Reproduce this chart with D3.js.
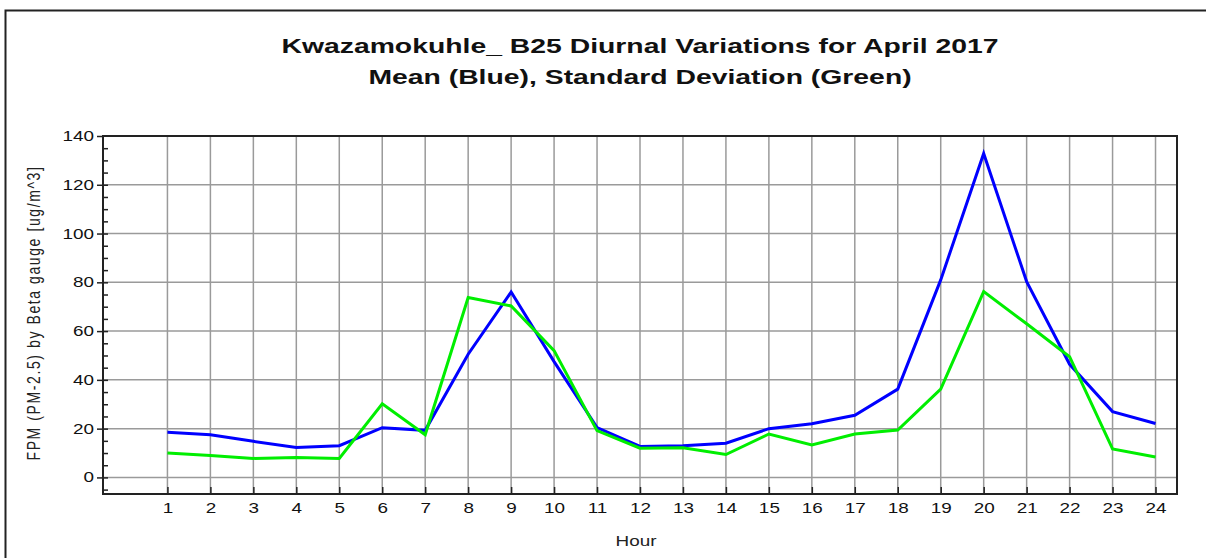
<!DOCTYPE html>
<html>
  <head>
    <title>Kwazamokuhle diurnal variations</title>
    <script src="https://d3js.org/d3.v7.min.js"></script>
    <style>
      body { margin: 0; background: #fff; }
      text { font-family: "Liberation Sans", Arial, sans-serif; }
    </style>
  </head>
  <body>
    <div id="main"></div>
    <script>
      var WIDTH = 1206, HEIGHT = 558;
      var STRETCH = 1.35; // the source image text is drawn wide

      // data
      var hours = d3.range(1, 25);
      var meanValues = [18.5, 17.5, 14.8, 12.3, 13, 20.4, 19.3, 50.5, 76, 47.5, 20.4, 12.7,
                        13, 14, 20, 22, 25.5, 36.2, 81, 132.8, 80.3, 46.4, 27, 22.1];
      var sdValues   = [10, 9, 7.8, 8.2, 7.8, 30.2, 17.5, 73.8, 70.3, 52, 19.2, 12,
                        12.2, 9.4, 17.8, 13.3, 17.8, 19.4, 36.2, 76.2, 63, 49.5, 11.7, 8.4];
      var yTicks = [0, 20, 40, 60, 80, 100, 120, 140];
      var titleLines = ["Kwazamokuhle_  B25 Diurnal Variations for April 2017",
                        "Mean (Blue), Standard Deviation (Green)"];

      var margin = {left: 103, top: 136, right: 1177, bottom: 494};

      var svg = d3.select('#main').append('svg')
                  .attr('width', WIDTH).attr('height', HEIGHT);

      // outer frame (runs off the bottom/right of the picture)
      svg.append('rect')
        .attr('x', 5.5).attr('y', 10.5)
        .attr('width', WIDTH + 10).attr('height', HEIGHT + 10)
        .attr('fill', 'none').attr('stroke', '#222').attr('stroke-width', 2);

      var x = d3.scaleLinear().domain([-0.5, 24.5]).range([margin.left, margin.right]);
      var y = d3.scaleLinear().domain([-6.8, 140]).range([margin.bottom, margin.top]);

      // grid
      svg.append('g').selectAll('line.v').data(hours).enter()
        .append('line')
          .attr('x1', function(d) { return x(d); }).attr('x2', function(d) { return x(d); })
          .attr('y1', margin.top).attr('y2', margin.bottom)
          .attr('stroke', '#9a9a9a').attr('stroke-width', 1.5);
      svg.append('g').selectAll('line.h').data(yTicks).enter()
        .append('line')
          .attr('x1', margin.left).attr('x2', margin.right)
          .attr('y1', function(d) { return y(d); }).attr('y2', function(d) { return y(d); })
          .attr('stroke', '#9a9a9a').attr('stroke-width', 1.5);

      // y axis: major ticks outside, minor ticks inside
      var yAxis = svg.append('g').attr('transform', 'translate(' + margin.left + ',0)')
        .call(d3.axisLeft(y).tickValues(yTicks).tickSize(6).tickPadding(3));
      var yMinor = svg.append('g').attr('transform', 'translate(' + margin.left + ',0)')
        .call(d3.axisRight(y).tickValues(d3.range(-5, 140, 5)).tickSize(5).tickFormat(''));
      yMinor.select('.domain').remove();

      // x axis: ticks pointing up inside the plot
      var xAxis = svg.append('g').attr('transform', 'translate(0,' + margin.bottom + ')')
        .call(d3.axisTop(x).tickValues(hours).tickSize(7).tickFormat(''));
      xAxis.select('.domain').remove();
      var xLabels = svg.append('g').attr('transform', 'translate(0,' + margin.bottom + ')')
        .call(d3.axisBottom(x).tickValues(hours).tickSize(0).tickPadding(9));
      xLabels.select('.domain').remove();

      svg.selectAll('.tick line').attr('stroke', '#222').attr('stroke-width', 1.5);
      svg.selectAll('.tick text').attr('font-size', 14).attr('fill', '#111')
        .style('font-family', '"Liberation Sans", Arial, sans-serif')
        .attr('x', function() { return (+d3.select(this).attr('x') || 0) / STRETCH; })
        .attr('transform', 'scale(' + STRETCH + ',1)');

      // plot frame
      svg.append('rect')
        .attr('x', margin.left).attr('y', margin.top)
        .attr('width', margin.right - margin.left).attr('height', margin.bottom - margin.top)
        .attr('fill', 'none').attr('stroke', '#222').attr('stroke-width', 2);
      yAxis.select('.domain').remove();

      // series
      var line = d3.line()
        .x(function(d, i) { return x(hours[i]); })
        .y(function(d) { return y(d); });
      svg.append('path').datum(meanValues)
        .attr('d', line).attr('fill', 'none')
        .attr('stroke', '#0000ff').attr('stroke-width', 3);
      svg.append('path').datum(sdValues)
        .attr('d', line).attr('fill', 'none')
        .attr('stroke', '#00ee00').attr('stroke-width', 3);

      // titles
      svg.selectAll('text.title').data(titleLines).enter()
        .append('text')
          .attr('class', 'title')
          .attr('transform', function(d, i) {
            return 'translate(640,' + (53 + i * 31) + ') scale(' + STRETCH + ',1)';
          })
          .attr('text-anchor', 'middle')
          .attr('font-size', 21).attr('font-weight', 'bold').attr('fill', '#111')
          .text(function(d) { return d; });

      svg.append('text')
        .attr('transform', 'translate(636,546) scale(' + STRETCH + ',1)')
        .attr('text-anchor', 'middle').attr('font-size', 14).attr('fill', '#222')
        .text('Hour');

      svg.append('text')
        .attr('transform', 'translate(40,313) scale(1.25,1) rotate(-90)')
        .attr('text-anchor', 'middle').attr('font-size', 14).attr('fill', '#222')
        .style('letter-spacing', '1.6px')
        .text('FPM (PM-2.5) by Beta gauge  [ug/m^3]');
    </script>
  </body>
</html>
